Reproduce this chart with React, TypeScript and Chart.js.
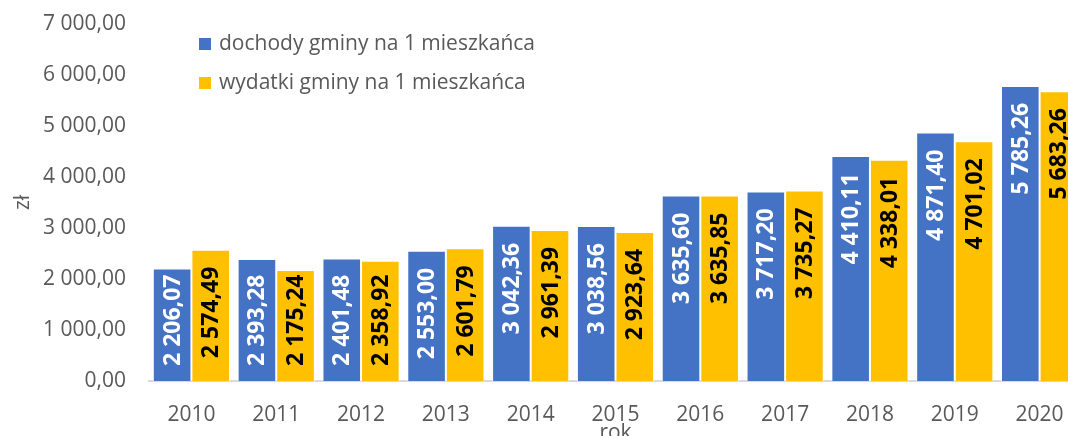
import { useEffect, useRef } from "react";
import { Chart, registerables } from "chart.js";

Chart.register(...registerables);

const categories = ["2010", "2011", "2012", "2013", "2014", "2015", "2016", "2017", "2018", "2019", "2020"];
const incomePerCapita = [2206.07, 2393.28, 2401.48, 2553.0, 3042.36, 3038.56, 3635.6, 3717.2, 4410.11, 4871.4, 5785.26];
const expensePerCapita = [2574.49, 2175.24, 2358.92, 2601.79, 2961.39, 2923.64, 3635.85, 3735.27, 4338.01, 4701.02, 5683.26];
const seriesNames = ["dochody gminy na 1 mieszkańca", "wydatki gminy na 1 mieszkańca"];
const seriesColors = ["#4472C4", "#FFC000"];
const labelColors = ["#FFFFFF", "#000000"];
const yMin = 0;
const yMax = 7000;
const yStep = 1000;
const xTitle = "rok";
const yTitle = "zł";

const FONT = "'Open Sans', sans-serif";
const GRAY = "#595959";

function fmt(v: number): string {
  const [i, d] = v.toFixed(2).split(".");
  const withSpaces = i.replace(/\B(?=(\d{3})+(?!\d))/g, " ");
  return withSpaces + "," + d;
}

const dataLabelPlugin = {
  id: "dataLabels",
  afterDatasetsDraw(chart: any) {
    const ctx = chart.ctx;
    ctx.save();
    ctx.font = `bold 23px ${FONT}`;
    ctx.textBaseline = "middle";
    ctx.textAlign = "right";
    chart.data.datasets.forEach((ds: any, di: number) => {
      const meta = chart.getDatasetMeta(di);
      meta.data.forEach((bar: any, i: number) => {
        const txt = fmt(ds.data[i]);
        const w = ctx.measureText(txt).width;
        let top = bar.y + 17;
        if (top + w > bar.base - 15) top = bar.base - 15 - w;
        ctx.save();
        ctx.translate(bar.x, top);
        ctx.rotate(-Math.PI / 2);
        ctx.fillStyle = labelColors[di];
        ctx.fillText(txt, 0, 1);
        ctx.restore();
      });
    });
    ctx.restore();
  },
};

const legendPlugin = {
  id: "customLegend",
  afterDraw(chart: any) {
    const ctx = chart.ctx;
    ctx.save();
    ctx.font = `21px ${FONT}`;
    ctx.textBaseline = "middle";
    ctx.textAlign = "left";
    const ys = [44, 83];
    chart.data.datasets.forEach((ds: any, di: number) => {
      ctx.fillStyle = ds.backgroundColor;
      ctx.fillRect(199, ys[di] - 6, 12, 12);
      ctx.fillStyle = GRAY;
      ctx.fillText(ds.label, 219, ys[di]);
    });
    ctx.restore();
  },
};

export default function App() {
  const ref = useRef<HTMLCanvasElement>(null);
  useEffect(() => {
    if (!ref.current) return;
    const chart = new Chart(ref.current, {
      type: "bar",
      data: {
        labels: categories,
        datasets: [
          {
            label: seriesNames[0],
            data: incomePerCapita,
            backgroundColor: seriesColors[0],
            borderColor: "#FFFFFF",
            borderWidth: 1,
            categoryPercentage: 0.91,
            barPercentage: 1,
          },
          {
            label: seriesNames[1],
            data: expensePerCapita,
            backgroundColor: seriesColors[1],
            borderColor: "#FFFFFF",
            borderWidth: 1,
            categoryPercentage: 0.91,
            barPercentage: 1,
          },
        ],
      },
      options: {
        responsive: false,
        animation: false,
        devicePixelRatio: 1,
        layout: { padding: { top: 24, right: 18, bottom: 0, left: 0 } },
        plugins: { legend: { display: false }, tooltip: { enabled: false } },
        scales: {
          x: {
            grid: { display: false, drawTicks: false },
            border: { display: true, color: "#D9D9D9", width: 2 },
            ticks: { color: GRAY, font: { family: FONT, size: 21 }, padding: 21 },
            title: {
              display: true,
              text: xTitle,
              color: GRAY,
              font: { family: FONT, size: 21 },
              padding: { top: 0, bottom: 4 },
            },
            afterFit(scale: any) {
              scale.height = 69;
              scale.paddingLeft = 0;
              scale.paddingRight = 0;
            },
          },
          y: {
            min: yMin,
            max: yMax,
            grid: { display: false, drawTicks: false },
            border: { display: false },
            ticks: {
              stepSize: yStep,
              color: GRAY,
              font: { family: FONT, size: 21 },
              padding: 23,
              callback: (v: any) => fmt(Number(v)),
            },
            title: {
              display: true,
              text: yTitle,
              color: GRAY,
              font: { family: FONT, size: 21 },
              padding: { top: 10, bottom: 0 },
            },
            afterFit(scale: any) {
              scale.width = 149;
              scale.paddingTop = 0;
              scale.paddingBottom = 0;
            },
          },
        },
      },
      plugins: [dataLabelPlugin, legendPlugin],
    });
    return () => chart.destroy();
  }, []);
  return (
    <div style={{ position: "absolute", left: 0, top: 0, width: 1068, height: 436, overflow: "hidden", background: "#fff" }}>
      <canvas ref={ref} width={1100} height={450} style={{ display: "block" }} />
    </div>
  );
}
